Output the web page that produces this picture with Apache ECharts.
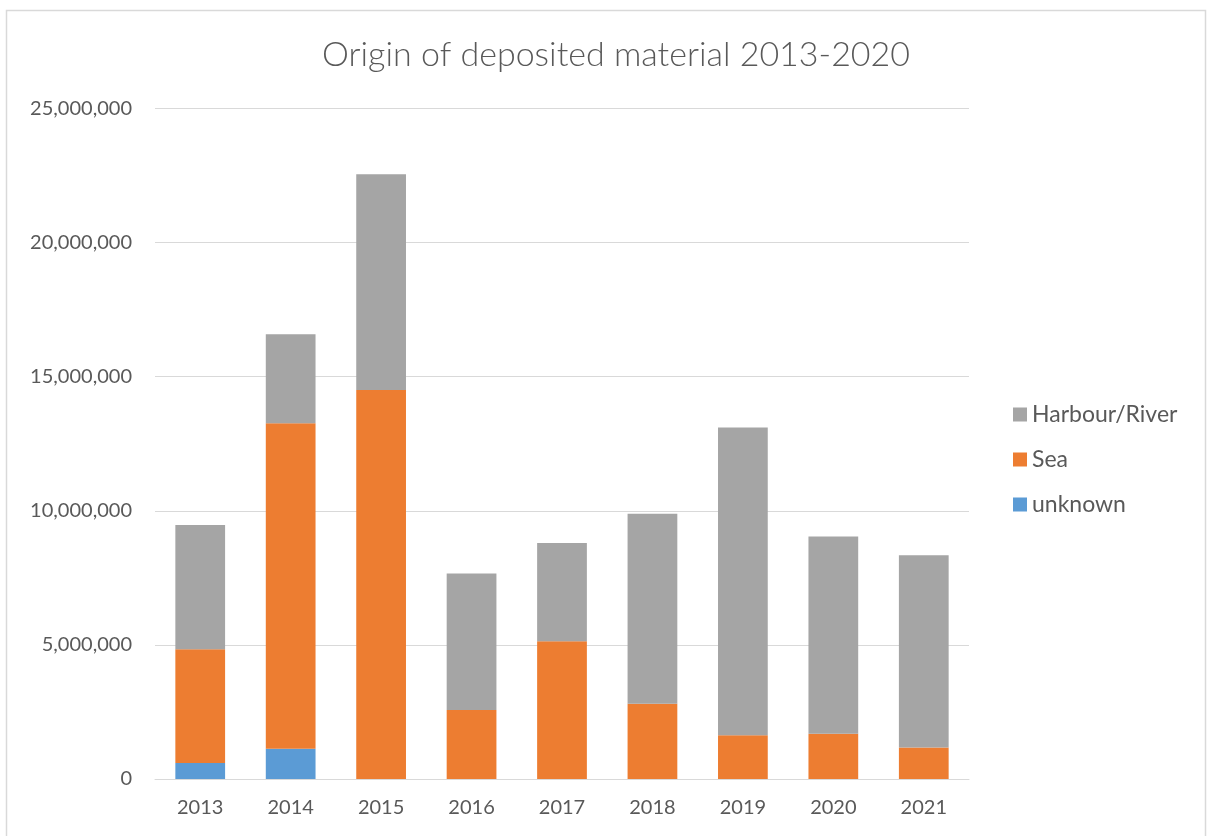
<!DOCTYPE html>
<html>
<head>
<meta charset="utf-8">
<script src="https://cdn.jsdelivr.net/npm/echarts@6/dist/echarts.min.js"></script>
<style>
html,body{margin:0;padding:0;background:#fff;}
#chart{width:1207px;height:836px;}
</style>
</head>
<body>
<div id="chart"></div>
<script>
const years = ['2013','2014','2015','2016','2017','2018','2019','2020','2021'];
const unknown = [600000, 1130000, 0, 0, 0, 0, 0, 0, 0];
const sea = [4240000, 12130000, 14500000, 2570000, 5140000, 2810000, 1630000, 1690000, 1170000];
const harbourRiver = [4630000, 3320000, 8050000, 5090000, 3660000, 7080000, 11480000, 7350000, 7170000];
const yTicks = [0, 5000000, 10000000, 15000000, 20000000, 25000000];

const FONT = 'Lato, "Open Sans", sans-serif';
const chart = echarts.init(document.getElementById('chart'), null, {renderer:'canvas'});
const fmt = v => v.toLocaleString('en-US');
const seriesBase = {type:'bar', stack:'total', barWidth:'55%', barGap:'0%'};
chart.setOption({
  animation:false,
  backgroundColor:'#fff',
  title:{
    text:'Origin of deposited material 2013-2020',
    left:611, top:33, textAlign:'center',
    textStyle:{fontFamily:FONT, fontSize:34, fontWeight:300, color:'#595959'}
  },
  legend:{
    orient:'vertical', left:1008, top:398,
    itemWidth:14, itemHeight:14, itemGap:22,
    icon:'rect',
    data:['Harbour/River','Sea','unknown'],
    textStyle:{fontFamily:FONT, fontSize:23, color:'#595959', padding:[0,0,0,0]}
  },
  grid:{left:155, right:1207-969, top:108.5, bottom:836-779, containLabel:false},
  xAxis:{
    type:'category', data:years,
    axisLine:{lineStyle:{color:'#d9d9d9', width:1}},
    axisTick:{show:false},
    axisLabel:{fontFamily:FONT, fontSize:20, color:'#595959', margin:19}
  },
  yAxis:{
    type:'value', min:yTicks[0], max:yTicks[yTicks.length-1], interval:5000000,
    axisLine:{show:false}, axisTick:{show:false},
    splitLine:{lineStyle:{color:'#d9d9d9', width:1}},
    axisLabel:{fontFamily:FONT, fontSize:20, color:'#595959', margin:23, formatter:fmt}
  },
  graphic:[{
    type:'rect', silent:true, z:-1,
    shape:{x:6.5, y:10.5, width:1199, height:900},
    style:{fill:null, stroke:'#d9d9d9', lineWidth:1.5}
  }],
  series:[
    Object.assign({}, seriesBase, {name:'unknown', data:unknown, itemStyle:{color:'#5B9BD5'}}),
    Object.assign({}, seriesBase, {name:'Sea', data:sea, itemStyle:{color:'#ED7D31'}}),
    Object.assign({}, seriesBase, {name:'Harbour/River', data:harbourRiver, itemStyle:{color:'#A5A5A5'}})
  ]
});
</script>
</body>
</html>
